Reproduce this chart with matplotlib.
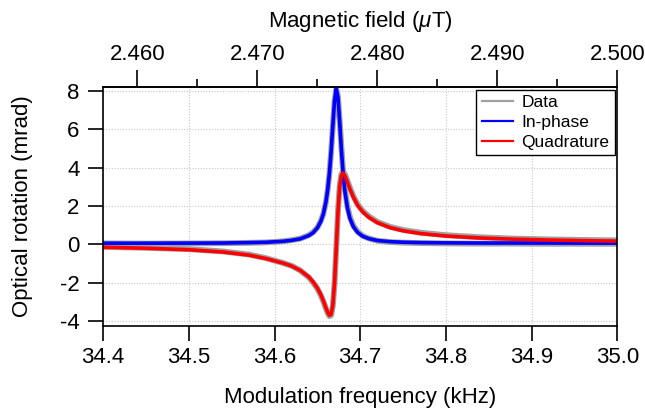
import matplotlib
matplotlib.use("Agg")
import matplotlib.pyplot as plt
from matplotlib.ticker import MultipleLocator, FixedLocator, FormatStrFormatter

plt.rcParams['font.family'] = ['Liberation Sans', 'DejaVu Sans']
plt.rcParams['mathtext.fontset'] = 'custom'
plt.rcParams['mathtext.it'] = 'Liberation Sans:italic'
plt.rcParams['mathtext.rm'] = 'Liberation Sans'
plt.rcParams['axes.unicode_minus'] = False

# modulation frequency (kHz)
freq = [34.40, 34.45, 34.50, 34.54, 34.57, 34.59, 34.61, 34.62, 34.63, 34.64,
        34.645, 34.650, 34.654, 34.657, 34.660, 34.662, 34.664, 34.666, 34.668,
        34.670, 34.672, 34.674, 34.676, 34.678, 34.680, 34.682, 34.685, 34.688,
        34.692, 34.697, 34.703, 34.71, 34.72, 34.735, 34.75, 34.77, 34.80,
        34.84, 34.88, 34.92, 34.96, 35.00]

# fitted in-phase (mrad)
inphase = [0.06, 0.06, 0.065, 0.07, 0.09, 0.11, 0.16, 0.21, 0.29, 0.46,
           0.61, 0.86, 1.20, 1.59, 2.23, 2.85, 3.70, 4.83, 6.19,
           7.49, 8.13, 7.69, 6.40, 4.95, 3.70, 2.80, 1.90, 1.35,
           0.92, 0.62, 0.42, 0.30, 0.20, 0.14, 0.11, 0.09, 0.08,
           0.07, 0.07, 0.07, 0.065, 0.065]

# fitted quadrature (mrad)
quad = [-0.15, -0.20, -0.28, -0.40, -0.56, -0.74, -0.98, -1.13, -1.36, -1.70,
        -1.96, -2.28, -2.62, -2.95, -3.32, -3.55, -3.70, -3.65, -3.17,
        -2.01, -0.20, 1.69, 3.00, 3.60, 3.72, 3.59, 3.25, 2.88,
        2.46, 2.03, 1.69, 1.41, 1.13, 0.87, 0.71, 0.567, 0.435,
        0.332, 0.268, 0.225, 0.194, 0.17]

# measured signal, both channels
data_inphase = [0.05, 0.04, 0.05, 0.06, 0.08, 0.10, 0.16, 0.22, 0.30, 0.48,
                0.63, 0.88, 1.22, 1.60, 2.22, 2.84, 3.68, 4.80, 6.15,
                7.45, 8.10, 7.72, 6.48, 5.05, 3.80, 2.90, 1.98, 1.42,
                0.97, 0.66, 0.44, 0.31, 0.19, 0.12, 0.09, 0.07, 0.05,
                0.04, 0.04, 0.03, 0.03, 0.03]
data_quad = [-0.13, -0.18, -0.25, -0.37, -0.53, -0.72, -0.97, -1.12, -1.36, -1.72,
             -1.99, -2.31, -2.66, -2.98, -3.35, -3.58, -3.74, -3.70, -3.22,
             -2.05, -0.20, 1.72, 3.05, 3.66, 3.80, 3.66, 3.32, 2.95,
             2.52, 2.08, 1.74, 1.46, 1.17, 0.91, 0.75, 0.61, 0.48,
             0.37, 0.30, 0.26, 0.23, 0.21]

field_ticks = [2.460, 2.470, 2.480, 2.490, 2.500]
field_minor = [2.465, 2.475, 2.485, 2.495]

fig = plt.figure(figsize=(6.45, 4.13), dpi=100)
ax = fig.add_axes([0.160, 0.211, 0.797, 0.578])

ax.plot(freq, data_inphase, color='#a0a0a0', lw=4.2, label='Data')
ax.plot(freq, data_quad, color='#a0a0a0', lw=4.2)
ax.plot(freq, inphase, color='#0000ff', lw=2.6, label='In-phase')
ax.plot(freq, quad, color='#ff0000', lw=2.6, label='Quadrature')

ax.set_xlim(34.4, 35.0)
ax.set_ylim(-4.25, 8.2)
ax.xaxis.set_major_locator(MultipleLocator(0.1))
ax.xaxis.set_major_formatter(FormatStrFormatter('%.1f'))
ax.yaxis.set_major_locator(MultipleLocator(2))
ax.grid(True, color='#c8c8c8', linestyle=(0, (1, 1.5)), lw=0.8)
ax.tick_params(axis='both', direction='out', length=11, width=1.2,
               labelsize=16, colors='black')
ax.tick_params(axis='x', pad=4)
ax.tick_params(axis='y', pad=6)
for s in ax.spines.values():
    s.set_linewidth(1.2)

ax.set_xlabel('Modulation frequency (kHz)', fontsize=16, labelpad=14)
ax.set_ylabel('Optical rotation (mrad)', fontsize=16, labelpad=19)

top = ax.secondary_xaxis('top', functions=(lambda f: f / 14.0, lambda b: b * 14.0))
top.xaxis.set_major_locator(FixedLocator(field_ticks))
top.xaxis.set_minor_locator(FixedLocator(field_minor))
top.xaxis.set_major_formatter(FormatStrFormatter('%.3f'))
top.tick_params(which='major', direction='out', length=12, width=1.2, labelsize=16, pad=4)
top.tick_params(which='minor', direction='out', length=6, width=1.2)
top.spines['top'].set_linewidth(1.2)
top.set_xlabel(r'Magnetic field ($\mu$T)', fontsize=16, labelpad=12)

leg = ax.legend(loc='upper right', fontsize=12.5, frameon=True, fancybox=False,
                framealpha=1, edgecolor='black', borderaxespad=0.15,
                handlelength=1.8, handletextpad=0.5, borderpad=0.3,
                labelspacing=0.28)
leg.get_frame().set_linewidth(1.0)
for h in leg.get_lines():
    h.set_linewidth(1.6)

fig.savefig('out.png', dpi=100)
